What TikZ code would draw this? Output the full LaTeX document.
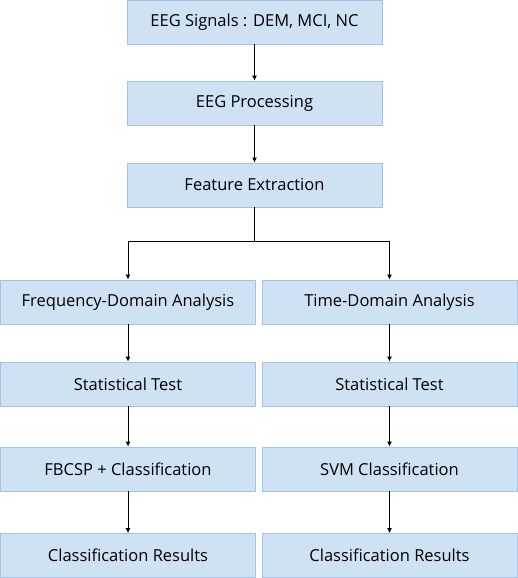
\documentclass[tikz,border=0pt]{standalone}
\usepackage{fontspec}
\setmainfont{Open Sans}
\usetikzlibrary{arrows.meta}
\definecolor{boxfill}{HTML}{CFE2F3}
\definecolor{boxline}{HTML}{A4C2E4}

\begin{document}
\begin{tikzpicture}[
        x=1pt, y=-1pt,
        stage/.style={rectangle, fill=boxfill, draw=boxline, line width=0.8pt,
          minimum width=255pt, minimum height=44pt, inner sep=0pt,
          font=\fontsize{16.5}{19}\selectfont},
        flow/.style={draw=black, line width=0.9pt, -{Latex[length=5pt,width=5pt]}},
      ]
      \useasboundingbox (0,0) rectangle (518,578);

      % Common trunk
      \node[stage] (signals) at (254.5,22) {EEG Signals : DEM, MCI, NC};
      \node[stage] (proc) at (254.5,103) {EEG Processing};
      \node[stage] (feat) at (254.5,185) {Feature Extraction};

      % Frequency-domain branch
      \node[stage] (freq) at (128,302) {Frequency-Domain Analysis};
      \node[stage] (ftest) at (128,384) {Statistical Test};
      \node[stage] (fbcsp) at (128,469) {FBCSP + Classification};
      \node[stage] (fres) at (128,555.5) {Classification Results};

      % Time-domain branch
      \node[stage] (time) at (389.5,302) {Time-Domain Analysis};
      \node[stage] (ttest) at (389.5,384) {Statistical Test};
      \node[stage] (svm) at (389.5,469) {SVM Classification};
      \node[stage] (tres) at (389.5,555.5) {Classification Results};

      % Arrows
      \draw[flow] (signals) -- (proc);
      \draw[flow] (proc) -- (feat);

      \coordinate (split) at (254.5,241);
      \draw[draw=black, line width=0.9pt] (feat.south) -- (split);
      \draw[flow] (split) -| (freq.north);
      \draw[flow] (split) -| (time.north);

      \draw[flow] (freq) -- (ftest);
      \draw[flow] (ftest) -- (fbcsp);
      \draw[flow] (fbcsp) -- (fres);

      \draw[flow] (time) -- (ttest);
      \draw[flow] (ttest) -- (svm);
      \draw[flow] (svm) -- (tres);
    \end{tikzpicture}
\end{document}
